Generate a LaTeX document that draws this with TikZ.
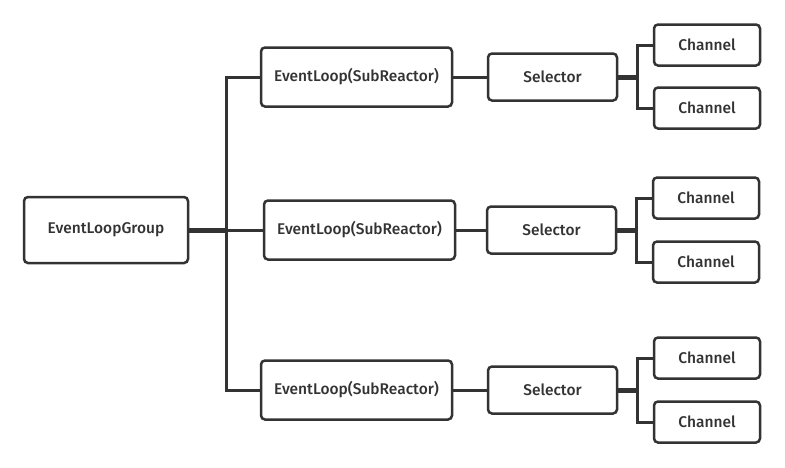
\documentclass[tikz,border=0pt]{standalone}
\usepackage{fontspec}
\setmainfont{Fira Sans}[UprightFont=* Medium]
\definecolor{inkgrau}{HTML}{333333}
\usetikzlibrary{positioning, calc}

\begin{document}
\begin{tikzpicture}[
    x=1pt, y=-1pt,
    node distance=34pt and 34pt,
    box/.style={rectangle, draw=inkgrau, line width=2.5pt, rounded corners=4pt,
                outer sep=0pt, fill=white, text=inkgrau, text centered,
                font=\fontsize{15.5}{17}\selectfont},
    grpbox/.style={box, minimum width=164pt, minimum height=66pt},
    loopbox/.style={box, minimum width=191pt, minimum height=59pt},
    selbox/.style={box, minimum width=129pt, minimum height=47pt},
    chbox/.style={box, minimum width=106pt, minimum height=41pt},
    link/.style={draw=inkgrau, line width=3pt},
    trunk/.style={draw=inkgrau, line width=5pt}
  ]
  \useasboundingbox (0,0) rectangle (785,467);
  \node[grpbox] (grp) at (106,230) {EventLoopGroup};
  \node[loopbox, right=76pt of grp] (el2) {EventLoop(SubReactor)};
  \node[loopbox, above=94pt of el2, xshift=-3pt] (el1) {EventLoop(SubReactor)};
  \node[loopbox, below=101pt of el2, xshift=-3pt] (el3) {EventLoop(SubReactor)};

  \node[selbox, right=36pt of el1] (sel1) {Selector};
  \node[selbox, right=32pt of el2] (sel2) {Selector};
  \node[selbox, right=36pt of el3] (sel3) {Selector};

  \node[chbox, right=37pt of sel1, yshift=32pt]  (ch1a) {Channel};
  \node[chbox, right=37pt of sel1, yshift=-31pt] (ch1b) {Channel};
  \node[chbox, right=37pt of sel2, yshift=32pt]  (ch2a) {Channel};
  \node[chbox, right=37pt of sel2, yshift=-32pt] (ch2b) {Channel};
  \node[chbox, right=37pt of sel3, yshift=32pt]  (ch3a) {Channel};
  \node[chbox, right=37pt of sel3, yshift=-32pt] (ch3b) {Channel};

  % group to the three loops
  \coordinate (hub) at ($(grp.east)!0.5!(el2.west)$);
  \draw[trunk] (grp.east) -- (hub);
  \draw[link] (hub) -- (el2.west);
  \draw[link] (el1.west) -| (hub) |- (el3.west);

  % loops to selectors
  \draw[link] (el1) -- (sel1);
  \draw[link] (el2) -- (sel2);
  \draw[link] (el3) -- (sel3);

  % selectors fan out to their channels
  \coordinate (fork1) at ($(sel1.east)!0.55!(sel1.east -| ch1a.west)$);
  \coordinate (fork2) at ($(sel2.east)!0.55!(sel2.east -| ch2a.west)$);
  \coordinate (fork3) at ($(sel3.east)!0.55!(sel3.east -| ch3a.west)$);
  \draw[trunk] (sel1.east) -- (fork1);
  \draw[trunk] (sel2.east) -- (fork2);
  \draw[trunk] (sel3.east) -- (fork3);
  \draw[link] (ch1a.west) -| (fork1) |- (ch1b.west);
  \draw[link] (ch2a.west) -| (fork2) |- (ch2b.west);
  \draw[link] (ch3a.west) -| (fork3) |- (ch3b.west);
\end{tikzpicture}
\end{document}
